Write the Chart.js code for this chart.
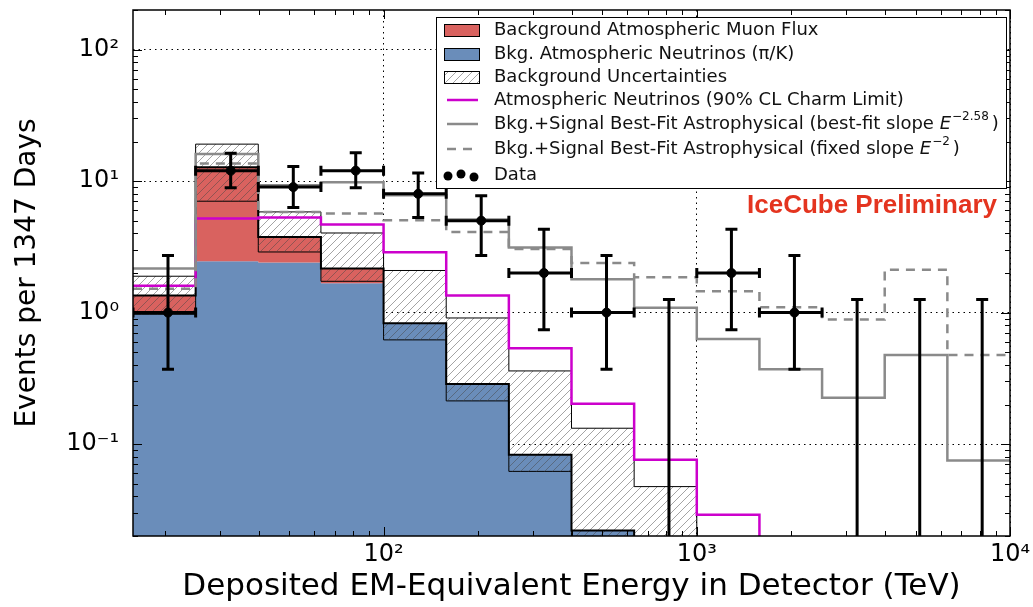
<!DOCTYPE html>
<html>
<head>
<meta charset="utf-8">
<script src="https://cdn.jsdelivr.net/npm/chart.js@4.4.1/dist/chart.umd.min.js"></script>
<style>
  html, body { margin: 0; padding: 0; background: #fff; }
</style>
</head>
<body>
<canvas id="chart" width="1033" height="607"></canvas>
<script>
// bin edges of deposited energy (TeV), 5 bins per decade
const binEdges = [15.85, 25.12, 39.81, 63.10, 100, 158.5, 251.2, 398.1, 631.0, 1000, 1585, 2512, 3981, 6310, 10000];

// background expectation per bin (events per 1347 days)
const atmNu = [0.98, 2.46, 2.40, 1.67, 0.82, 0.285, 0.083, 0.022, 0.009, 0.004, 0.002, 0.001, 0.0006, 0.0003];
const atmMu = [0.37, 10.3, 1.36, 0.49, 0.01, 0.001, 0, 0, 0, 0, 0, 0, 0, 0];
const bkgUncLow = [0.97, 7.03, 2.89, 1.73, 0.62, 0.213, 0.062, 0.016, 0.005, 0.002, 0.001, 0.0005, 0.0003, 0.0001];
const bkgUncHigh = [1.89, 19.1, 5.83, 4.03, 2.09, 0.91, 0.36, 0.132, 0.0475, 0.012, 0.006, 0.003, 0.002, 0.001];

// model curves per bin
const charmLimit = [1.60, 5.2, 5.28, 4.67, 2.87, 1.35, 0.535, 0.203, 0.076, 0.029, 0.005, 0.003, 0.002, 0.001];
const bestFitSlope = [2.16, 16.1, 9.3, 9.8, 7.8, 5.1, 3.12, 1.79, 1.09, 0.63, 0.37, 0.225, 0.475, 0.075];
const fixedSlope = [1.52, 13.6, 5.83, 5.67, 5.04, 4.1, 3.05, 2.38, 1.86, 1.45, 1.10, 0.885, 2.12, 0.475];

// observed events
const dataEnergy = [20.5, 32.5, 51.5, 81.5, 129, 205, 325, 515, 815, 1290, 2050, 3250, 5150, 8150];
const dataCounts = [1, 12, 9, 12, 8, 5, 2, 1, 0, 2, 1, 0, 0, 0];
const dataErrLow = [0.37, 8.9, 6.3, 8.9, 5.28, 2.72, 0.74, 0.37, 0, 0.74, 0.37, 0, 0, 0];
const dataErrHigh = [2.72, 16.3, 12.9, 16.4, 11.5, 7.72, 4.3, 2.72, 1.26, 4.3, 2.72, 1.26, 1.26, 1.26];

const xTicks = [100, 1000, 10000];
const yTicks = [0.1, 1, 10, 100];

const FONT = 'DejaVu Sans';
const RED = '#d9625f';
const BLUE = '#6a8dba';
const MAGENTA = '#cc00cc';
const GRAY = '#8a8a8a';

const sup = { '-1': '⁻¹', '0': '⁰', '1': '¹', '2': '²', '3': '³', '4': '⁴' };
const powLabel = v => '10' + sup[Math.round(Math.log10(v))];

// histogram as step points at bin edges
function steps(values) {
  const pts = values.map((v, i) => ({ x: binEdges[i], y: v }));
  pts.push({ x: binEdges[binEdges.length - 1], y: values[values.length - 1] });
  return pts;
}

const bkgTotal = atmNu.map((v, i) => v + atmMu[i]);

function makeHatch() {
  const c = document.createElement('canvas');
  c.width = 8; c.height = 8;
  const g = c.getContext('2d');
  g.strokeStyle = 'rgba(70,70,70,0.55)';
  g.lineWidth = 0.9;
  g.beginPath();
  g.moveTo(0, 8); g.lineTo(8, 0);
  g.moveTo(-2, 2); g.lineTo(2, -2);
  g.moveTo(6, 10); g.lineTo(10, 6);
  g.stroke();
  return g.createPattern(c, 'repeat');
}
const hatch = makeHatch();

const stepLine = { stepped: 'before', pointRadius: 0, tension: 0, fill: false };

// frame, inward ticks, error bars, legend and label
const decorations = {
  id: 'decorations',
  afterDraw(chart) {
    const { ctx, chartArea: a, scales: { x, y } } = chart;
    ctx.save();

    // error bars
    ctx.save();
    ctx.beginPath();
    ctx.rect(a.left, a.top, a.right - a.left, a.bottom - a.top);
    ctx.clip();
    ctx.strokeStyle = '#000';
    ctx.lineWidth = 3;
    dataCounts.forEach((n, i) => {
      const px = x.getPixelForValue(dataEnergy[i]);
      const top = y.getPixelForValue(dataErrHigh[i]);
      const bot = n > 0 ? y.getPixelForValue(dataErrLow[i]) : a.bottom;
      ctx.beginPath();
      ctx.moveTo(px, top); ctx.lineTo(px, bot);
      ctx.moveTo(px - 6, top); ctx.lineTo(px + 6, top);
      if (n > 0) {
        ctx.moveTo(px - 6, bot); ctx.lineTo(px + 6, bot);
        const py = y.getPixelForValue(n);
        const x0 = x.getPixelForValue(binEdges[i]);
        const x1 = x.getPixelForValue(binEdges[i + 1]);
        ctx.moveTo(x0, py); ctx.lineTo(x1, py);
        ctx.moveTo(x0, py - 5); ctx.lineTo(x0, py + 5);
        ctx.moveTo(x1, py - 5); ctx.lineTo(x1, py + 5);
      }
      ctx.stroke();
    });
    ctx.restore();

    // inward ticks
    ctx.strokeStyle = '#000';
    ctx.lineWidth = 1;
    ctx.beginPath();
    for (let d = -2; d <= 2; d++) {
      for (let m = 1; m <= 9; m++) {
        const v = m * Math.pow(10, d);
        if (v < y.min || v > y.max) continue;
        const py = Math.round(y.getPixelForValue(v)) + 0.5;
        const len = m === 1 ? 9 : 5;
        ctx.moveTo(a.left, py); ctx.lineTo(a.left + len, py);
        ctx.moveTo(a.right, py); ctx.lineTo(a.right - len, py);
      }
    }
    for (let d = 1; d <= 4; d++) {
      for (let m = 1; m <= 9; m++) {
        const v = m * Math.pow(10, d);
        if (v < x.min || v > x.max) continue;
        const px = Math.round(x.getPixelForValue(v)) + 0.5;
        const len = m === 1 ? 9 : 5;
        ctx.moveTo(px, a.bottom); ctx.lineTo(px, a.bottom - len);
        ctx.moveTo(px, a.top); ctx.lineTo(px, a.top + len);
      }
    }
    ctx.stroke();

    // frame
    ctx.lineWidth = 1.5;
    ctx.strokeRect(a.left, a.top, a.right - a.left, a.bottom - a.top);

    // legend
    const lx = 436, ly = 17, lw = 570, lh = 171;
    ctx.fillStyle = '#fff';
    ctx.fillRect(lx, ly, lw, lh);
    ctx.lineWidth = 1;
    ctx.strokeStyle = '#000';
    ctx.strokeRect(lx + 0.5, ly + 0.5, lw, lh);

    const rows = [30, 54, 77, 100, 124, 149, 175];
    const sx0 = 444, sx1 = 479, tx = 494;
    const items = [
      { kind: 'patch', fill: RED, text: 'Background Atmospheric Muon Flux' },
      { kind: 'patch', fill: BLUE, text: 'Bkg. Atmospheric Neutrinos (π/K)' },
      { kind: 'patch', fill: hatch, text: 'Background Uncertainties' },
      { kind: 'line', color: MAGENTA, text: 'Atmospheric Neutrinos (90% CL Charm Limit)' },
      { kind: 'line', color: GRAY, text: 'Bkg.+Signal Best-Fit Astrophysical (best-fit slope ', exp: '−2.58' },
      { kind: 'dash', color: GRAY, text: 'Bkg.+Signal Best-Fit Astrophysical (fixed slope ', exp: '−2' },
      { kind: 'dots', text: 'Data' }
    ];
    ctx.textBaseline = 'middle';
    items.forEach((it, i) => {
      const ry = rows[i];
      if (it.kind === 'patch') {
        ctx.fillStyle = '#fff';
        ctx.fillRect(sx0, ry - 6, sx1 - sx0, 12);
        ctx.fillStyle = it.fill;
        ctx.fillRect(sx0, ry - 6, sx1 - sx0, 12);
        ctx.lineWidth = 1;
        ctx.strokeStyle = '#000';
        ctx.strokeRect(sx0 + 0.5, ry - 5.5, sx1 - sx0, 12);
      } else if (it.kind === 'line' || it.kind === 'dash') {
        ctx.lineWidth = 2.5;
        ctx.strokeStyle = it.color;
        ctx.setLineDash(it.kind === 'dash' ? [9, 7] : []);
        ctx.beginPath();
        ctx.moveTo(sx0 + 3, ry); ctx.lineTo(sx1 - 1, ry);
        ctx.stroke();
        ctx.setLineDash([]);
      } else {
        ctx.fillStyle = '#000';
        [[sx0 + 4, ry + 1], [sx0 + 17, ry - 1], [sx0 + 30, ry + 2]].forEach(([cx, cy]) => {
          ctx.beginPath(); ctx.arc(cx, cy, 4.5, 0, Math.PI * 2); ctx.fill();
        });
      }
      ctx.fillStyle = '#111';
      ctx.font = '18px "' + FONT + '"';
      ctx.textAlign = 'left';
      ctx.fillText(it.text, tx, ry);
      if (it.exp) {
        let cx = tx + ctx.measureText(it.text).width;
        ctx.font = 'italic 18px "' + FONT + '"';
        ctx.fillText('E', cx, ry);
        cx += ctx.measureText('E').width + 1;
        ctx.font = '12px "' + FONT + '"';
        ctx.fillText(it.exp, cx, ry - 7);
        cx += ctx.measureText(it.exp).width + 3;
        ctx.font = '18px "' + FONT + '"';
        ctx.fillText(')', cx, ry);
      }
    });

    // preliminary label
    ctx.fillStyle = '#e4341f';
    ctx.font = 'bold 26px "Liberation Sans"';
    ctx.textAlign = 'right';
    ctx.fillText('IceCube Preliminary', 997, 206);
    ctx.restore();
  }
};

new Chart(document.getElementById('chart').getContext('2d'), {
  type: 'line',
  data: {
    datasets: [
      { label: 'Data', type: 'scatter', order: 0,
        data: dataCounts.map((n, i) => ({ x: dataEnergy[i], y: n })).filter(p => p.y > 0),
        pointRadius: 4.5, backgroundColor: '#000', borderColor: '#000', showLine: false },
      { label: 'Bkg.+Signal (fixed slope)', order: 1, data: steps(fixedSlope), ...stepLine,
        borderColor: GRAY, borderWidth: 2.5, borderDash: [9, 7] },
      { label: 'Bkg.+Signal (best-fit slope)', order: 2, data: steps(bestFitSlope), ...stepLine,
        borderColor: GRAY, borderWidth: 2.5 },
      { label: 'Charm limit', order: 3, data: steps(charmLimit), ...stepLine,
        borderColor: MAGENTA, borderWidth: 2.5 },
      { label: 'Background total', order: 4, data: steps(bkgTotal), ...stepLine,
        borderColor: '#000', borderWidth: 2 },
      { label: 'Uncertainty high', order: 5, data: steps(bkgUncHigh), ...stepLine,
        borderColor: '#000', borderWidth: 1, fill: 6, backgroundColor: hatch },
      { label: 'Uncertainty low', order: 6, data: steps(bkgUncLow), ...stepLine,
        borderColor: '#000', borderWidth: 1 },
      { label: 'Atmospheric muons', order: 7, data: steps(bkgTotal), ...stepLine,
        borderWidth: 0, borderColor: RED, fill: 8, backgroundColor: RED },
      { label: 'Atmospheric neutrinos', order: 8, data: steps(atmNu), ...stepLine,
        borderWidth: 0, borderColor: BLUE, fill: 'start', backgroundColor: BLUE }
    ]
  },
  options: {
    responsive: false,
    animation: false,
    devicePixelRatio: 1,
    events: [],
    layout: { padding: { left: 0, right: 23, top: 10, bottom: 0 } },
    plugins: {
      legend: { display: false },
      tooltip: { enabled: false }
    },
    scales: {
      x: {
        type: 'logarithmic', min: 15.85, max: 10000, z: 1,
        afterBuildTicks: s => { s.ticks = xTicks.map(v => ({ value: v })); },
        afterFit: s => { s.height = 71; s.paddingLeft = 0; s.paddingRight = 0; },
        ticks: { callback: v => powLabel(v), font: { family: FONT, size: 24 }, color: '#000',
                 padding: 4, maxRotation: 0, autoSkip: false },
        grid: { color: '#000', lineWidth: 1, drawTicks: false },
        border: { display: false, dash: [1.5, 4] },
        title: { display: true, text: 'Deposited EM-Equivalent Energy in Detector (TeV)',
                 font: { family: FONT, size: 31 }, color: '#000', padding: { top: 0, bottom: 1 } }
      },
      y: {
        type: 'logarithmic', min: 0.02, max: 200, z: 1,
        afterBuildTicks: s => { s.ticks = yTicks.map(v => ({ value: v })); },
        afterFit: s => { s.width = 133; s.paddingTop = 0; s.paddingBottom = 0; },
        ticks: { callback: v => powLabel(v), font: { family: FONT, size: 24 }, color: '#000',
                 padding: 14, autoSkip: false },
        grid: { color: '#000', lineWidth: 1, drawTicks: false },
        border: { display: false, dash: [1.5, 4] },
        title: { display: true, text: 'Events per 1347 Days',
                 font: { family: FONT, size: 28 }, color: '#000', padding: { top: 11, bottom: 0 } }
      }
    }
  },
  plugins: [decorations]
});
</script>
</body>
</html>
